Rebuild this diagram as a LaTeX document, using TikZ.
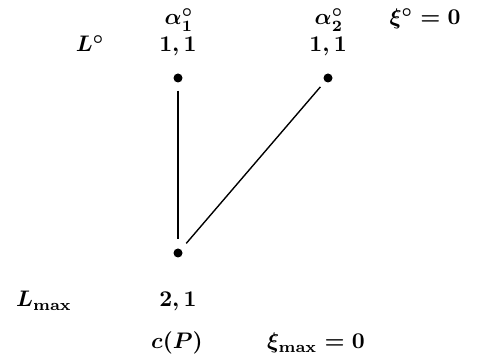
\documentclass[tikz,border=0pt]{standalone}
\newcommand{\bigtxt}[1]{\scalebox{2.25}{\boldmath$#1$}}
\begin{document}
\begin{tikzpicture}[x=1pt,y=-1pt,
  lbl/.style={inner sep=0pt,anchor=base},
  vtx/.style={circle,fill=black,inner sep=0pt,minimum size=9pt},
  edge/.style={line width=1.4pt}]
\useasboundingbox (0,0) rectangle (504,355);
\node[lbl] (a1) at (179,25) {\bigtxt{\alpha_1^\circ}};
\node[lbl] (a2) at (329,25) {\bigtxt{\alpha_2^\circ}};
\node[lbl] (xi0) at (425,25) {\bigtxt{\xi^\circ=0}};
\node[lbl] (L0) at (90,52) {\bigtxt{L^\circ}};
\node[lbl] (w1) at (178,52) {\bigtxt{1,1}};
\node[lbl] (w2) at (328,52) {\bigtxt{1,1}};
\node[vtx] (v1) at (178,78) {};
\node[vtx] (v2) at (328,78) {};
\node[vtx] (v3) at (178,253) {};
\node[lbl] (Lmax) at (44,307) {\bigtxt{L_{\mathrm{max}}}};
\node[lbl] (w3) at (178,307) {\bigtxt{2,1}};
\node[lbl] (cP) at (177,349) {\bigtxt{c(P)}};
\node[lbl] (ximax) at (316,349) {\bigtxt{\xi_{\mathrm{max}}=0}};
\draw[edge,shorten <=8pt,shorten >=9pt] (v1) -- (v3);
\draw[edge,shorten <=7pt,shorten >=8pt] (v2) -- (v3);
\end{tikzpicture}
\end{document}
